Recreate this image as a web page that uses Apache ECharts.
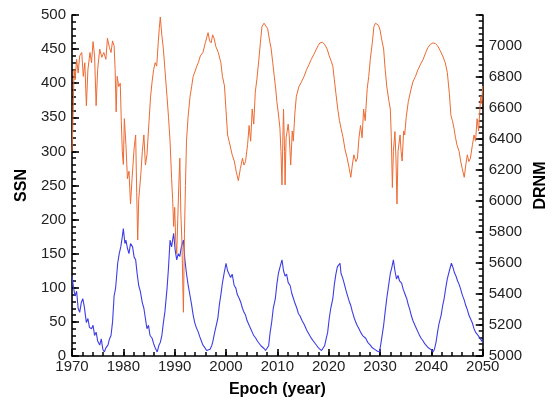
<!DOCTYPE html>
<html><head><meta charset="utf-8">
<script src="https://cdn.jsdelivr.net/npm/echarts@6/dist/echarts.min.js"></script>
<style>html,body{margin:0;padding:0;background:#fff}#c{width:557px;height:403px}</style>
</head><body><div id="c"></div>
<script>
// SSN (left axis), blue
const ssnYears = [1970.0,1970.3,1970.6,1970.9,1971.2,1971.5,1971.8,1972.1,1972.4,1972.8,1973.1,1973.4,1973.8,1974.1,1974.4,1974.7,1975.0,1975.4,1975.7,1976.0,1976.3,1976.6,1977.0,1977.3,1977.6,1977.9,1978.2,1978.5,1978.9,1979.2,1979.5,1979.8,1980.0,1980.3,1980.5,1980.8,1981.1,1981.4,1981.8,1982.1,1982.4,1982.7,1983.0,1983.3,1983.7,1984.0,1984.3,1984.6,1984.9,1985.2,1985.6,1985.9,1986.2,1986.6,1986.9,1987.2,1987.5,1987.8,1988.1,1988.5,1988.8,1989.1,1989.4,1989.8,1990.1,1990.4,1990.7,1991.0,1991.3,1991.7,1992.0,1992.3,1992.6,1993.0,1993.3,1993.6,1993.9,1994.2,1994.6,1994.9,1995.2,1995.5,1995.9,1996.2,1996.5,1996.9,1997.2,1997.4,1997.8,1998.1,1998.4,1998.7,1999.0,1999.3,1999.6,2000.0,2000.3,2000.6,2000.9,2001.2,2001.6,2001.9,2002.2,2002.6,2002.9,2003.2,2003.5,2003.8,2004.1,2004.5,2004.8,2005.1,2005.4,2005.8,2006.1,2006.4,2006.8,2007.1,2007.4,2007.7,2008.0,2008.3,2008.6,2008.9,2009.2,2009.6,2009.9,2010.2,2010.5,2010.9,2011.2,2011.5,2011.8,2012.1,2012.5,2012.8,2013.1,2013.4,2013.8,2014.1,2014.4,2014.8,2015.1,2015.3,2015.7,2016.0,2016.3,2016.7,2017.0,2017.3,2017.7,2018.0,2018.2,2018.6,2018.9,2019.2,2019.5,2019.8,2020.1,2020.4,2020.8,2021.1,2021.4,2021.7,2022.0,2022.2,2022.4,2022.7,2023.0,2023.3,2023.6,2024.0,2024.3,2024.6,2025.0,2025.3,2025.6,2025.9,2026.2,2026.6,2026.9,2027.2,2027.6,2027.9,2028.1,2028.5,2028.8,2029.1,2029.5,2029.9,2030.2,2030.5,2030.7,2031.0,2031.3,2031.6,2032.0,2032.3,2032.6,2032.9,2033.2,2033.5,2033.8,2034.2,2034.5,2034.8,2035.2,2035.5,2035.8,2036.1,2036.4,2036.8,2037.1,2037.4,2037.7,2038.0,2038.4,2038.7,2039.0,2039.4,2039.7,2040.0,2040.3,2040.6,2040.9,2041.2,2041.5,2041.9,2042.2,2042.5,2042.8,2043.1,2043.5,2043.9,2044.2,2044.5,2044.8,2045.1,2045.4,2045.7,2046.0,2046.4,2046.7,2047.0,2047.3,2047.6,2048.0,2048.3,2048.6,2048.9,2049.3,2049.6,2050.0];
const ssnValues = [117,100,88,95,70,64,78,84,72,49,55,42,40,45,30,35,22,16,25,10,6,12,16,25,30,50,88,100,136,150,160,175,187,165,170,158,150,165,160,145,141,120,103,95,78,70,55,40,45,30,26,18,12,6,15,20,30,49,65,98,130,170,160,180,155,141,150,146,160,170,140,121,105,88,75,60,49,42,35,28,22,16,12,8,6,10,15,20,35,45,55,75,90,107,120,136,125,127,115,120,103,100,90,84,78,70,64,60,52,45,40,35,30,26,22,20,15,13,11,8,6,15,35,50,70,84,105,121,130,141,125,117,120,108,103,92,85,78,70,62,59,52,48,45,38,34,30,25,22,20,15,12,11,8,6,15,25,35,55,70,84,105,120,131,133,136,121,115,107,98,90,80,74,65,55,49,44,40,35,30,28,26,20,18,16,12,10,9,7,6,20,35,45,65,84,100,121,130,141,125,113,118,110,107,98,92,84,75,68,59,52,45,40,35,30,26,22,18,16,12,10,9,6,10,20,35,48,60,74,85,100,113,125,136,130,122,117,110,105,98,90,82,74,68,60,55,48,40,35,32,28,26,20];

// DRNM (right axis), orange
const drnmYears = [1970.0,1970.2,1970.4,1970.6,1970.9,1971.2,1971.5,1971.9,1972.2,1972.5,1972.8,1973.1,1973.5,1973.8,1974.1,1974.4,1974.7,1975.0,1975.4,1975.8,1976.2,1976.6,1976.9,1977.3,1977.6,1977.9,1978.2,1978.4,1978.6,1978.8,1979.1,1979.4,1979.6,1979.8,1980.0,1980.2,1980.5,1980.8,1981.1,1981.4,1981.7,1982.1,1982.4,1982.6,1982.8,1983.0,1983.4,1983.7,1984.0,1984.3,1984.6,1985.0,1985.3,1985.6,1985.9,1986.2,1986.5,1986.8,1987.0,1987.2,1987.5,1987.8,1988.1,1988.5,1988.8,1989.1,1989.4,1989.6,1989.8,1990.0,1990.2,1990.4,1990.6,1990.8,1991.0,1991.2,1991.4,1991.7,1991.9,1992.1,1992.3,1992.6,1993.0,1993.3,1993.6,1994.0,1994.3,1994.6,1995.0,1995.5,1996.0,1996.5,1996.8,1997.1,1997.4,1997.7,1998.0,1998.5,1999.0,1999.3,1999.7,2000.0,2000.3,2000.6,2000.9,2001.2,2001.6,2002.0,2002.4,2002.8,2003.2,2003.5,2003.8,2004.2,2004.5,2004.8,2005.1,2005.4,2005.7,2006.0,2006.4,2006.7,2007.0,2007.4,2007.7,2008.1,2008.5,2008.8,2009.1,2009.4,2009.7,2009.9,2010.2,2010.5,2010.7,2010.9,2011.1,2011.2,2011.4,2011.5,2011.7,2011.8,2012.1,2012.3,2012.6,2012.9,2013.1,2013.4,2013.7,2014.2,2014.7,2015.2,2015.7,2016.2,2016.6,2017.1,2017.6,2018.0,2018.3,2018.8,2019.2,2019.7,2020.1,2020.5,2020.8,2021.1,2021.4,2021.8,2022.1,2022.4,2022.8,2023.2,2023.6,2024.0,2024.3,2024.6,2024.9,2025.3,2025.6,2025.9,2026.2,2026.5,2026.8,2027.1,2027.5,2027.8,2028.1,2028.5,2028.8,2029.1,2029.4,2029.7,2030.0,2030.3,2030.7,2031.0,2031.3,2031.7,2032.0,2032.2,2032.4,2032.6,2032.9,2033.1,2033.3,2033.5,2033.9,2034.1,2034.3,2034.6,2034.8,2035.1,2035.5,2036.0,2036.4,2036.9,2037.4,2037.9,2038.4,2038.9,2039.3,2039.8,2040.3,2040.8,2041.2,2041.7,2042.2,2042.7,2043.1,2043.5,2043.8,2044.1,2044.4,2044.7,2045.0,2045.4,2045.7,2046.0,2046.4,2046.7,2047.0,2047.3,2047.6,2048.0,2048.3,2048.6,2048.9,2049.2,2049.6,2049.8,2050.0];
const drnmValues = [6320,6540,6848,6782,6914,6826,6936,6958,6804,6892,6615,6848,6958,6892,7028,6936,6615,6848,6980,6927,6958,6914,7050,6989,6958,7033,7002,6848,6575,6804,6738,6760,6518,6320,6236,6531,6364,6144,6192,5981,6144,6342,6426,6056,5748,6012,6170,6320,6426,6232,6298,6514,6672,6769,6848,6892,6870,7024,7112,7187,7068,6980,6848,6676,6540,6386,6144,6012,5836,5959,5748,5660,5880,6100,6276,5924,5748,5282,5792,6100,6386,6540,6676,6738,6804,6839,6870,6892,6936,6958,7024,7086,7033,7020,7072,7046,6998,6958,6892,6804,6742,6584,6426,6386,6342,6298,6258,6188,6131,6210,6276,6232,6254,6364,6487,6386,6593,6496,6703,6782,6914,7024,7125,7147,7147,7112,7033,6980,6892,6804,6716,6641,6562,6470,6320,6104,6452,6593,6320,6104,6408,6426,6496,6426,6232,6452,6386,6562,6676,6738,6769,6804,6848,6883,6914,6945,6980,7006,7020,7024,7011,6980,6936,6901,6870,6782,6694,6584,6518,6470,6408,6329,6276,6210,6153,6232,6298,6254,6276,6408,6487,6408,6593,6518,6725,6804,6914,7024,7125,7147,7147,7134,7103,7046,6980,6848,6742,6650,6593,6408,6087,6320,6448,6276,5981,6320,6426,6320,6258,6452,6426,6540,6641,6716,6769,6804,6848,6883,6914,6958,6989,7011,7020,7015,7002,6971,6936,6892,6830,6694,6553,6518,6470,6408,6360,6320,6258,6210,6153,6232,6298,6254,6276,6364,6426,6386,6531,6452,6676,6628,6742];

const xName = 'Epoch (year)';
const leftName = 'SSN';
const rightName = 'DRNM';

const FONT = '"Liberation Sans", Arial, sans-serif';
const zip = (xs, ys) => xs.map((x, i) => [x, ys[i]]);
const axisLineStyle = () => ({show: true, onZero: false, lineStyle: {color: '#000', width: 1.6}});
const tick = () => ({show: true, inside: true, length: 7, lineStyle: {color: '#000', width: 1.6}});
const lbl = () => ({color: '#222', fontSize: 15, fontFamily: FONT});
const nameStyle = () => ({color: '#000', fontSize: 16, fontWeight: 'bold', fontFamily: FONT});

// minor-tick-only helper axis (fresh objects each time)
function minorAxis(min, max, interval, position) {
  return {
    type: 'value', min: min, max: max, interval: interval, position: position, offset: 0,
    axisLine: {show: true, onZero: false, lineStyle: {color: 'rgba(0,0,0,0)'}},
    axisTick: {show: true, inside: true, length: 4, lineStyle: {color: '#000', width: 1.5}},
    axisLabel: {show: false}, splitLine: {show: false}
  };
}

const chart = echarts.init(document.getElementById('c'), null, {renderer: 'canvas'});
chart.setOption({
  animation: false,
  backgroundColor: '#fff',
  grid: {left: 72, right: 68, top: 15, bottom: 42, containLabel: false},
  xAxis: [{
    type: 'value', min: 1970, max: 2050, interval: 10, position: 'bottom',
    name: xName, nameLocation: 'middle', nameGap: 26, nameTextStyle: nameStyle(),
    axisLine: axisLineStyle(), axisTick: tick(),
    axisLabel: Object.assign({margin: 3, hideOverlap: false, formatter: v => String(v)}, lbl()),
    splitLine: {show: false}
  }, minorAxis(1970, 2050, 2, 'bottom')],
  yAxis: [{
    type: 'value', min: 0, max: 500, interval: 50, position: 'left',
    name: leftName, nameLocation: 'middle', nameGap: 42, nameRotate: 90, nameTextStyle: nameStyle(),
    axisLine: axisLineStyle(), axisTick: tick(),
    axisLabel: Object.assign({margin: 6}, lbl()),
    splitLine: {show: false}
  }, {
    type: 'value', min: 5000, max: 7200, interval: 200, position: 'right',
    name: rightName, nameLocation: 'middle', nameGap: 48, nameRotate: 90, nameTextStyle: nameStyle(),
    axisLine: axisLineStyle(), axisTick: tick(),
    axisLabel: Object.assign({margin: 6, formatter: v => v >= 7200 ? '' : String(v)}, lbl()),
    splitLine: {show: false}
  }, minorAxis(0, 500, 10, 'left'), minorAxis(5000, 7200, 40, 'right')],
  series: [{
    type: 'line', name: leftName, xAxisIndex: 0, yAxisIndex: 0, showSymbol: false, symbol: 'none',
    data: zip(ssnYears, ssnValues),
    lineStyle: {color: '#3d3de6', width: 1.1}
  }, {
    type: 'line', name: rightName, xAxisIndex: 0, yAxisIndex: 1, showSymbol: false, symbol: 'none',
    data: zip(drnmYears, drnmValues),
    lineStyle: {color: '#ee6a32', width: 1}
  }]
});
</script></body></html>
